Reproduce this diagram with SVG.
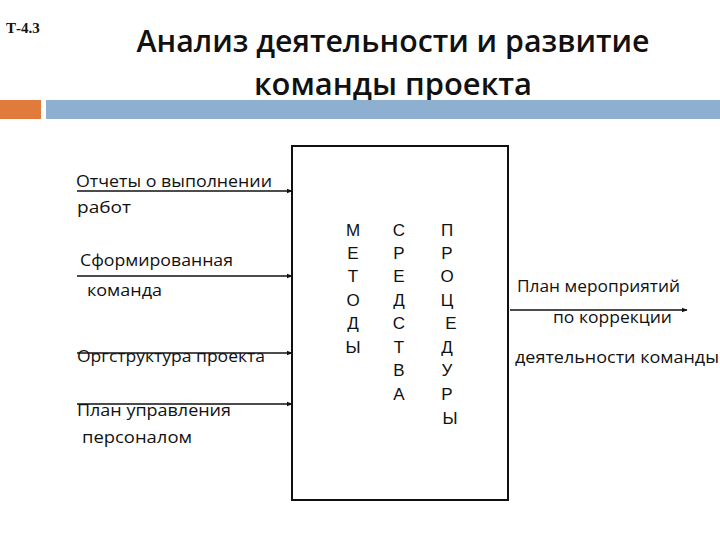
<svg xmlns="http://www.w3.org/2000/svg" width="720" height="540" viewBox="0 0 720 540">
<style>
.t{font-family:"Open Sans","Liberation Sans",Arial,sans-serif;font-size:17px;fill:#111}
.ttl{font-family:"Open Sans","Liberation Sans",Arial,sans-serif;font-size:31px;font-weight:600;fill:#111}
.v{font-family:"Liberation Sans",Arial,sans-serif;font-size:17px;fill:#111;text-anchor:middle}
.c{stroke:#111;stroke-width:1.6;fill:none;marker-end:url(#ah)}
</style>
<defs>
<marker id="ah" viewBox="0 0 10 10" refX="9" refY="5" markerWidth="6" markerHeight="6" markerUnits="userSpaceOnUse" orient="auto">
<path d="M0,1 L10,5 L0,9 z" fill="#111"/>
</marker>
</defs>
<rect width="720" height="540" fill="#fff"/>
<g id="header">
<text x="6" y="33" font-family="Liberation Serif,serif" font-size="15" font-weight="bold" fill="#111">Т-4.3</text>
<text class="ttl" x="393" y="52" text-anchor="middle" textLength="513" lengthAdjust="spacingAndGlyphs">Анализ деятельности и развитие</text>
<text class="ttl" x="393" y="95" text-anchor="middle" textLength="278" lengthAdjust="spacingAndGlyphs">команды проекта</text>
<rect x="0" y="100" width="41" height="19" fill="#e07b3c"/>
<rect x="46" y="100" width="674" height="19" fill="#8eb0d0"/>
</g>
<g id="box">
<rect x="292" y="146" width="216" height="354" fill="none" stroke="#111" stroke-width="2"/>
<g id="metody">
<text class="v" x="353" y="236">М</text>
<text class="v" x="353" y="259">Е</text>
<text class="v" x="353" y="282">Т</text>
<text class="v" x="353" y="306">О</text>
<text class="v" x="353" y="329">Д</text>
<text class="v" x="353" y="353">Ы</text>
</g>
<g id="sredstva">
<text class="v" x="399" y="236">С</text>
<text class="v" x="399" y="259">Р</text>
<text class="v" x="399" y="282">Е</text>
<text class="v" x="399" y="306">Д</text>
<text class="v" x="399" y="329">С</text>
<text class="v" x="399" y="353">Т</text>
<text class="v" x="399" y="376">В</text>
<text class="v" x="399" y="400">А</text>
</g>
<g id="protsedury">
<text class="v" x="447" y="236">П</text>
<text class="v" x="447" y="259">Р</text>
<text class="v" x="447" y="282">О</text>
<text class="v" x="447" y="306">Ц</text>
<text class="v" x="451" y="329">Е</text>
<text class="v" x="447" y="353">Д</text>
<text class="v" x="447" y="376">У</text>
<text class="v" x="447" y="400">Р</text>
<text class="v" x="450" y="424">Ы</text>
</g>
</g>
<g id="in1">
<text class="t" x="76" y="187" textLength="196" lengthAdjust="spacingAndGlyphs">Отчеты о выполнении</text>
<text class="t" x="77" y="213" textLength="54" lengthAdjust="spacingAndGlyphs">работ</text>
</g>
<g id="in2">
<text class="t" x="80" y="266" textLength="153" lengthAdjust="spacingAndGlyphs">Сформированная</text>
<text class="t" x="87" y="296" textLength="75" lengthAdjust="spacingAndGlyphs">команда</text>
</g>
<g id="in3">
<text class="t" x="77" y="362" textLength="188" lengthAdjust="spacingAndGlyphs">Оргструктура проекта</text>
</g>
<g id="in4">
<text class="t" x="77" y="416" textLength="154" lengthAdjust="spacingAndGlyphs">План управления</text>
<text class="t" x="82" y="443" textLength="110" lengthAdjust="spacingAndGlyphs">персоналом</text>
</g>
<g id="out">
<text class="t" x="517" y="292" textLength="163" lengthAdjust="spacingAndGlyphs">План мероприятий</text>
<text class="t" x="553" y="323" textLength="119" lengthAdjust="spacingAndGlyphs">по коррекции</text>
<text class="t" x="515" y="363" textLength="204" lengthAdjust="spacingAndGlyphs">деятельности команды</text>
</g>
<g id="connectors">
<line class="c" x1="77" y1="191" x2="292" y2="191" stroke-width="2"/>
<line class="c" x1="77" y1="276" x2="292" y2="276"/>
<line class="c" x1="77" y1="353" x2="292" y2="353"/>
<line class="c" x1="77" y1="404" x2="292" y2="404" stroke-width="2"/>
<line class="c" x1="510" y1="310" x2="687" y2="310"/>
</g>
</svg>
